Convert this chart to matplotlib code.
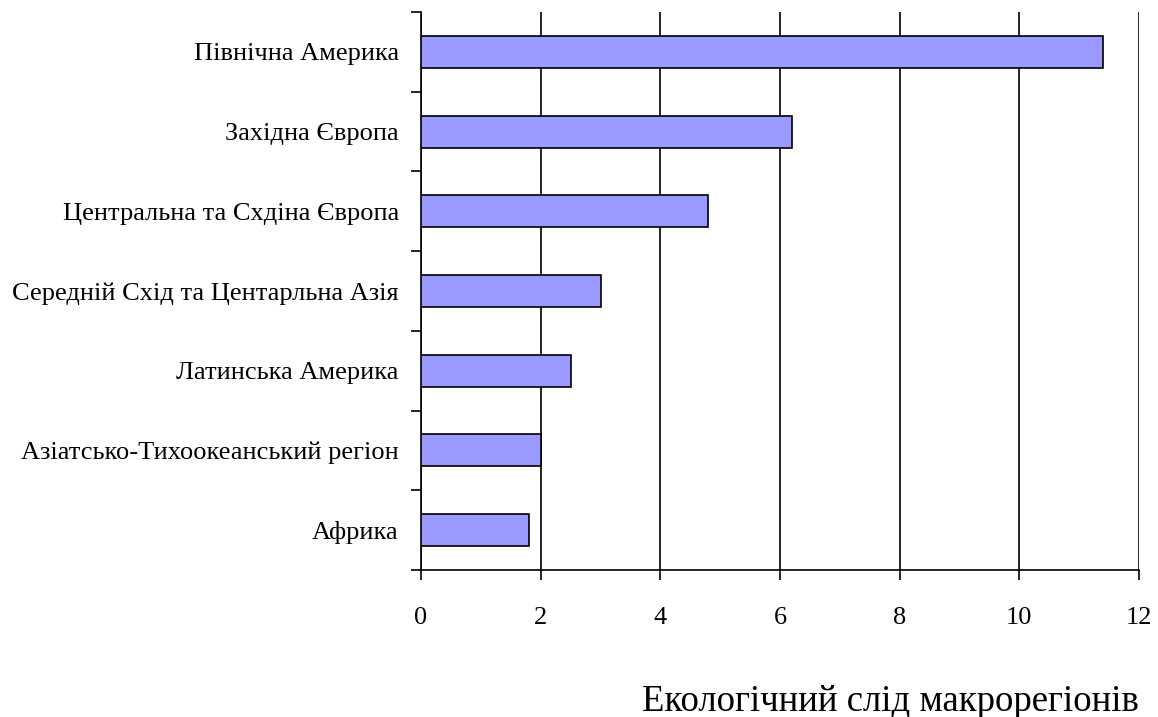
import matplotlib.pyplot as plt
import numpy as np

plt.rcParams['font.family'] = ['Liberation Serif', 'DejaVu Serif']

regions = [
    "Північна Америка",
    "Західна Європа",
    "Центральна та Схдіна Європа",
    "Середній Схід та Центарльна Азія",
    "Латинська Америка",
    "Азіатсько-Тихоокеанський регіон",
    "Африка",
]
footprint = [11.4, 6.2, 4.8, 3.0, 2.5, 2.0, 1.8]
x_ticks = [0, 2, 4, 6, 8, 10, 12]

fig = plt.figure(figsize=(11.58, 7.17), dpi=100)
ax = fig.add_axes([421 / 1158, 1 - 570 / 717, (1139 - 421) / 1158, (570 - 12) / 717])

n = len(regions)
y = np.arange(n)[::-1]
ax.barh(y, footprint, height=0.4, color="#9999FF", edgecolor="black", linewidth=1.2, zorder=3)

ax.set_xlim(0, 12)
ax.set_ylim(-0.5, n - 0.5)
ax.set_xticks(x_ticks)
ax.set_xticklabels([str(t) for t in x_ticks], fontsize=19)
ax.tick_params(axis="x", direction="out", length=7, width=1.2, pad=20)

ax.set_yticks(y)
ax.set_yticklabels(regions, fontsize=19)
ax.set_yticks(np.arange(n + 1) - 0.5, minor=True)
ax.tick_params(axis="y", which="major", length=0, pad=16)
ax.tick_params(axis="y", which="minor", direction="out", length=7, width=1.2)

ax.grid(axis="x", color="black", linewidth=1.2, zorder=0)
for side in ["top", "right"]:
    ax.spines[side].set_visible(False)
ax.spines["left"].set_linewidth(1.2)
ax.spines["bottom"].set_linewidth(1.2)

fig.text(1139 / 1158, 1 - 711 / 717, "Екологічний слід макрорегіонів",
         ha="right", va="baseline", fontsize=26.5)

fig.savefig("out.png", dpi=100)
